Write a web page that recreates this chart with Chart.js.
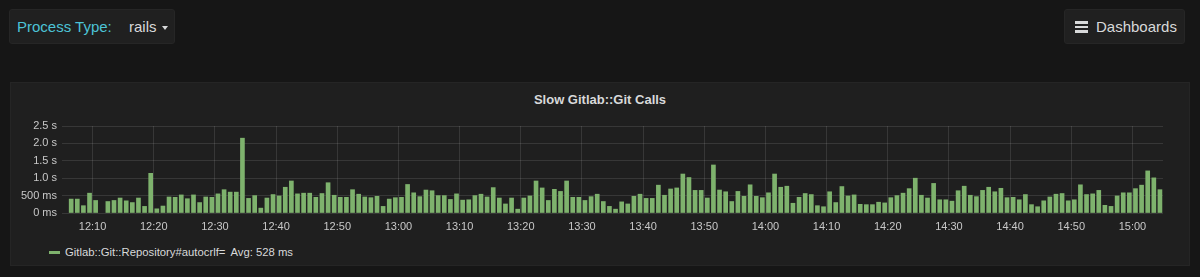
<!DOCTYPE html>
<html>
<head>
<meta charset="utf-8">
<script src="https://cdn.jsdelivr.net/npm/chart.js@4/dist/chart.umd.min.js"></script>
<style>
  body {
    margin: 0;
    width: 1200px;
    height: 277px;
    background: #161616;
    font-family: "Liberation Sans", Arial, sans-serif;
    overflow: hidden;
    position: relative;
  }
  .btn {
    position: absolute;
    top: 9px;
    height: 35px;
    background: #202020;
    border: 1px solid #262626;
    border-radius: 3px;
    box-sizing: border-box;
    font-size: 15px;
    line-height: 33px;
    color: #d8d9da;
  }
  #process { left: 9px; width: 166px; }
  #process .label { position: absolute; left: 7px; color: #4cc3d6; }
  #process .value { position: absolute; left: 119px; }
  #process .caret {
    position: absolute; left: 152px; top: 16px;
    border-left: 3px solid transparent;
    border-right: 3px solid transparent;
    border-top: 4px solid #d8d9da;
  }
  #dash { left: 1064px; width: 121px; }
  #dash .bars { position: absolute; left: 10px; top: 11px; width: 13px; }
  #dash .bars span { display: block; height: 2.5px; background: #d8d9da; margin-bottom: 2px; }
  #dash .text { position: absolute; left: 31px; }
  #panel {
    position: absolute;
    left: 10px; top: 82px;
    width: 1180px; height: 184px;
    background: #1f1f1f;
    border: 1px solid #252525;
    box-sizing: border-box;
  }
  #title {
    position: absolute;
    left: 0; right: 0; top: 92px;
    text-align: center;
    font-size: 13px;
    font-weight: bold;
    color: #d8d9da;
  }
  #chart-wrap {
    position: absolute;
    left: 10px; top: 111px;
    width: 1180px; height: 130px;
  }
  #legend {
    position: absolute;
    left: 49px; top: 246px;
    font-size: 11.3px;
    color: #d8d9da;
    white-space: nowrap;
  }
  #legend .swatch {
    display: inline-block;
    width: 11px; height: 3px;
    background: #7eb26d;
    vertical-align: middle;
    margin-right: 5px;
    position: relative; top: -1px;
  }
  #legend .avg { margin-left: 5px; }
</style>
</head>
<body>
  <div class="btn" id="process">
    <span class="label">Process Type:</span>
    <span class="value">rails</span>
    <span class="caret"></span>
  </div>
  <div class="btn" id="dash">
    <div class="bars"><span></span><span></span><span></span></div>
    <span class="text">Dashboards</span>
  </div>
  <div id="panel"></div>
  <div id="title">Slow Gitlab::Git Calls</div>
  <div id="chart-wrap"><canvas id="chart"></canvas></div>
  <div id="legend">
    <span class="swatch"></span><span id="series-name"></span><span class="avg" id="series-avg"></span>
  </div>

<script>
const seriesName = "Gitlab::Git::Repository#autocrlf=";
const avgLabel = "Avg: 528 ms";
const firstTime = "12:06";
const axisStart = "12:05";
const axisEnd = "15:05";

// one bar per minute from 12:06, in seconds (null = no sample)
const callSeconds = [
  0.40, 0.40, 0.21, 0.57, 0.36, null, 0.33, 0.36, 0.43, 0.35,
  0.30, 0.43, 0.19, 1.14, 0.12, 0.20, 0.46, 0.45, 0.52, 0.41,
  0.52, 0.30, 0.46, 0.45, 0.55, 0.67, 0.60, 0.60, 2.15, 0.42,
  0.50, 0.14, 0.43, 0.53, 0.49, 0.74, 0.92, 0.55, 0.57, 0.57,
  0.45, 0.56, 0.87, 0.51, 0.45, 0.45, 0.67, 0.54, 0.46, 0.44,
  0.48, 0.19, 0.40, 0.44, 0.45, 0.82, 0.58, 0.47, 0.66, 0.64,
  0.50, 0.50, 0.39, 0.55, 0.37, 0.38, 0.50, 0.54, 0.46, 0.73,
  0.43, 0.26, 0.43, 0.11, 0.43, 0.49, 0.92, 0.72, 0.36, 0.68,
  0.62, 0.92, 0.45, 0.45, 0.36, 0.47, 0.54, 0.33, 0.19, 0.11,
  0.32, 0.26, 0.48, 0.54, 0.42, 0.42, 0.80, 0.51, 0.69, 0.72,
  1.12, 1.02, 0.65, 0.65, 0.43, 1.38, 0.66, 0.61, 0.33, 0.62,
  0.48, 0.81, 0.48, 0.44, 0.58, 1.12, 0.74, 0.77, 0.28, 0.45,
  0.56, 0.53, 0.21, 0.18, 0.61, 0.30, 0.76, 0.49, 0.52, 0.25,
  0.24, 0.24, 0.31, 0.29, 0.44, 0.50, 0.57, 0.70, 1.00, 0.51,
  0.43, 0.85, 0.38, 0.38, 0.34, 0.64, 0.77, 0.51, 0.47, 0.65,
  0.74, 0.61, 0.71, 0.44, 0.45, 0.38, 0.53, 0.24, 0.18, 0.35,
  0.46, 0.54, 0.56, 0.35, 0.38, 0.81, 0.53, 0.55, 0.65, 0.22,
  0.19, 0.49, 0.58, 0.58, 0.70, 0.80, 1.21, 1.01, 0.67
];

const xTickLabels = [
  "12:10", "12:20", "12:30", "12:40", "12:50", "13:00", "13:10", "13:20", "13:30",
  "13:40", "13:50", "14:00", "14:10", "14:20", "14:30", "14:40", "14:50", "15:00"
];
const yTicks = [0, 0.5, 1.0, 1.5, 2.0, 2.5];

function toMinutes(t) {
  const [h, m] = t.split(":").map(Number);
  return h * 60 + m;
}
function toLabel(min) {
  const h = Math.floor(min / 60);
  const m = min % 60;
  return h + ":" + String(m).padStart(2, "0");
}
function formatSeconds(v) {
  if (v < 1) return Math.round(v * 1000) + " ms";
  return v.toFixed(1) + " s";
}

// minute labels for each bar
const times = callSeconds.map((_, i) => toLabel(toMinutes(firstTime) + i));

document.getElementById("series-name").textContent = seriesName;
document.getElementById("series-avg").textContent = avgLabel;

const gridColor = "rgba(255,255,255,0.11)";
const tickColor = "#c8c8c8";
const tickFont = { family: "'Liberation Sans', Arial, sans-serif", size: 11 };

new Chart(document.getElementById("chart"), {
  type: "bar",
  data: {
    datasets: [{
      label: seriesName,
      // bar sits to the right of its timestamp, like Grafana
      data: callSeconds.map((v, i) => ({ x: toMinutes(times[i]) + 0.5, y: v })),
      backgroundColor: "#7eb26d",
      borderWidth: 0,
      barThickness: 4
    }]
  },
  options: {
    responsive: true,
    maintainAspectRatio: false,
    animation: false,
    layout: { padding: { left: 0, right: 27, top: 15, bottom: 0 } },
    plugins: { legend: { display: false }, tooltip: { enabled: false } },
    scales: {
      x: {
        type: "linear",
        offset: false,
        min: toMinutes(axisStart),
        max: toMinutes(axisEnd),
        afterBuildTicks: (scale) => {
          scale.ticks = xTickLabels.map((l) => ({ value: toMinutes(l) }));
        },
        afterFit: (scale) => { scale.height = 28; },
        ticks: {
          color: tickColor,
          font: tickFont,
          padding: 7,
          maxRotation: 0,
          autoSkip: false,
          callback: (v) => toLabel(v)
        },
        grid: { color: gridColor, drawTicks: false, offset: false },
        border: { display: false }
      },
      y: {
        min: 0,
        max: 2.5,
        afterBuildTicks: (scale) => {
          scale.ticks = yTicks.map((v) => ({ value: v }));
        },
        afterFit: (scale) => { scale.width = 52; },
        ticks: {
          color: tickColor,
          font: tickFont,
          padding: 5,
          callback: (v) => formatSeconds(v)
        },
        grid: { color: gridColor, drawTicks: false },
        border: { display: false }
      }
    }
  }
});
</script>
</body>
</html>
